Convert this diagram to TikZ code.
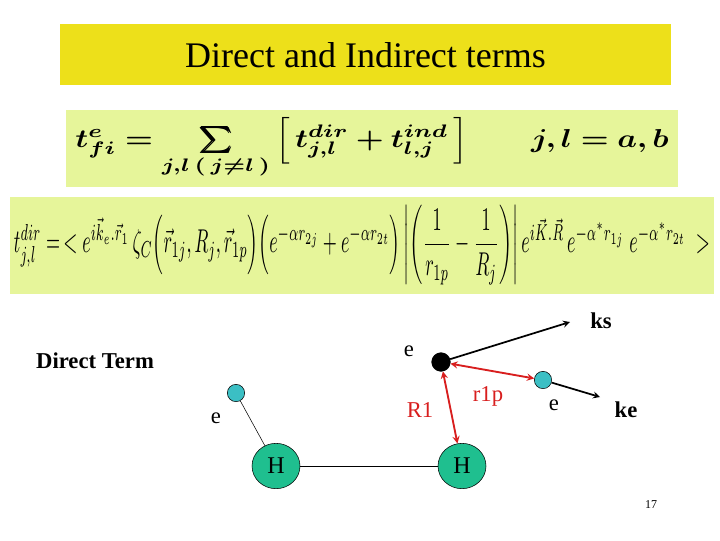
\documentclass[tikz,border=0pt]{standalone}
\usepackage{amsmath,bm,graphicx}
\usepackage{fontspec}
\setmainfont{Liberation Serif}
\definecolor{titley}{HTML}{EDE01A}
\definecolor{lime}{HTML}{E6F59A}
\definecolor{teal1}{HTML}{1FBF8F}
\definecolor{cyan1}{HTML}{3BBFC4}
\definecolor{red1}{HTML}{D81E1E}
\usetikzlibrary{shapes.geometric}
\tikzset{
  hatom/.style={ellipse,draw,fill=teal1,minimum width=36pt,minimum height=34pt,inner sep=0pt,font=\fontsize{18}{18}\selectfont},
  elec/.style={circle,draw,fill=cyan1,minimum size=13pt,inner sep=0pt},
  lbl/.style={font=\fontsize{17}{17}\selectfont},
  redarr/.style={red1,line width=1.4pt,<->,>=stealth},
  blkarr/.style={black,line width=1.3pt,->,>=stealth}
}
\begin{document}
\begin{tikzpicture}[x=0.75pt,y=-0.75pt]
\useasboundingbox (0,0) rectangle (720,540);
\fill[titley] (60,24) rectangle (671,85);
\node[font=\fontsize{27}{27}\selectfont] (title) at (365.5,55) {Direct and Indirect terms};
\fill[lime] (66,110) rectangle (678,187);
\node (f1) at (372,148) {\resizebox*{445pt}{46pt}{$\bm{t^{e}_{fi} = \sum\limits_{j,l\,(\,j\ne l\,)}\Big[\, t^{dir}_{j,l} + t^{ind}_{l,j}\,\Big]\qquad j,l = a,b}$}};
\fill[lime] (10,197) rectangle (714,294);
\node (f2) at (362,245) {\resizebox*{522pt}{60pt}{$t^{dir}_{j,l} = \,<e^{i\vec k_e.\vec r_1}\,\zeta_C\Big(\vec r_{1j},R_j,\vec r_{1p}\Big)\Big(e^{-\alpha r_{2j}}+e^{-\alpha r_{2t}}\Big)\left|\left(\dfrac{1}{r_{1p}}-\dfrac{1}{R_j}\right)\right| e^{i\vec K.\vec R}\,e^{-\alpha^* r_{1j}}\;e^{-\alpha^* r_{2t}}\;>$}};
\node[font=\fontsize{17}{17}\selectfont\bfseries] (dt) at (95,361) {Direct Term};
\node[hatom] (h1) at (276,466) {H};
\node[hatom] (h2) at (462,466) {H};
\node[elec] (e1) at (236,393) {};
\node[circle,fill=black,draw,minimum size=14pt,inner sep=0pt] (e0) at (441,362) {};
\node[elec] (e2) at (543,380) {};
\node[lbl] (le1) at (216,418) {e};
\node[lbl] (le0) at (409,351) {e};
\node[lbl] (le2) at (554,405) {e};
\node[lbl,red1] (lr1) at (420,410) {R1};
\node[lbl,red1] (lrp) at (488,396) {r1p};
\node[font=\fontsize{17}{17}\selectfont\bfseries] (ks) at (601,321) {ks};
\node[font=\fontsize{17}{17}\selectfont\bfseries] (ke) at (626,410) {ke};
\node[font=\fontsize{9}{9}\selectfont] (pg) at (651,505) {17};
\coordinate (ksend) at (570,322);
\coordinate (keend) at (600,397);
\draw (h1) -- (h2);
\draw (e1) -- (h1);
\draw[blkarr] (e0) -- (ksend);
\draw[blkarr] (e2) -- (keend);
\draw[redarr] (e0) -- (h2);
\draw[redarr] (e0) -- (e2);
\end{tikzpicture}
\end{document}
